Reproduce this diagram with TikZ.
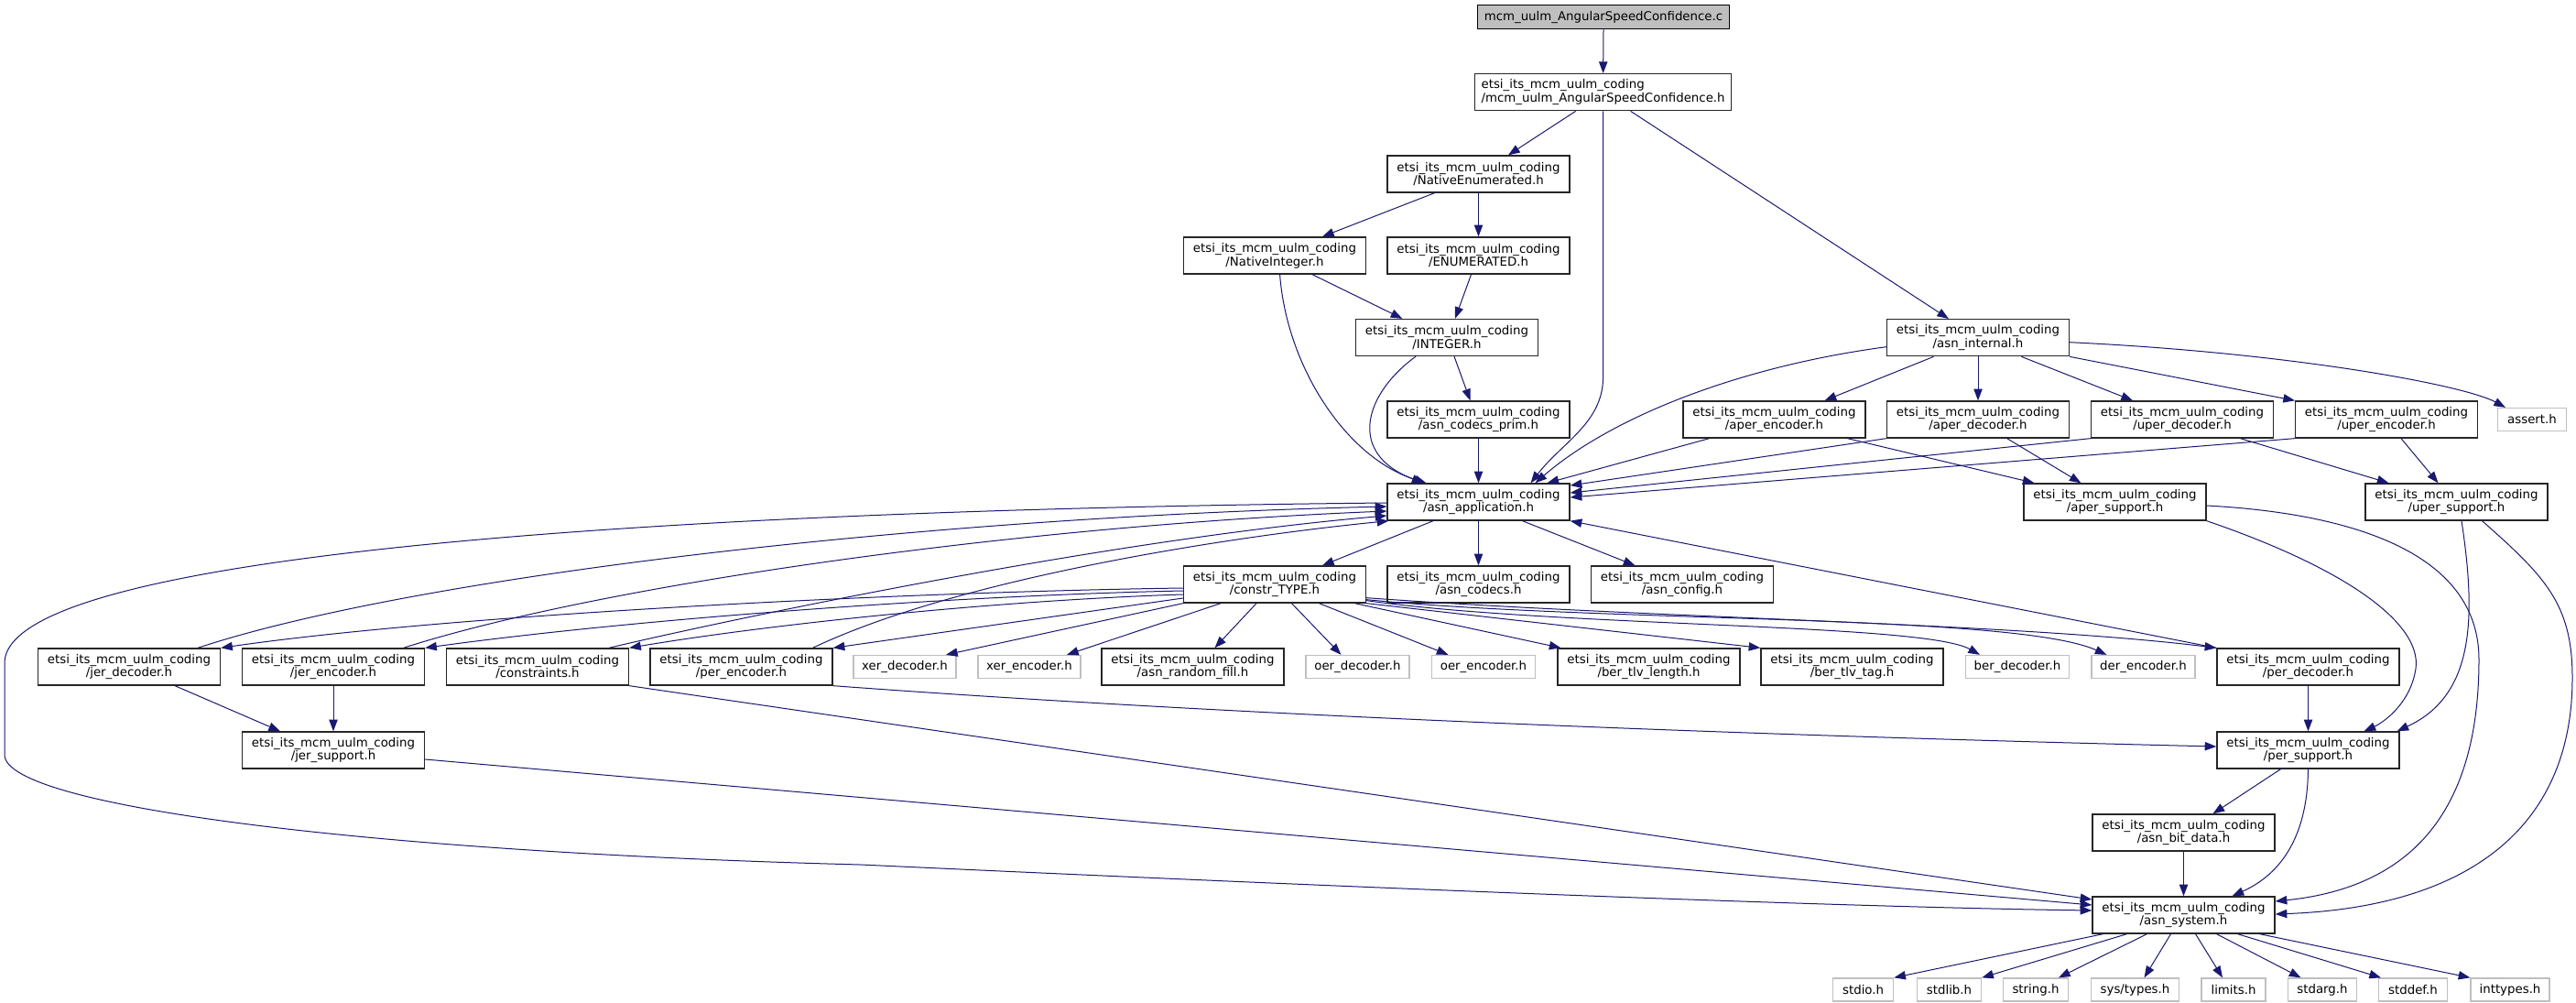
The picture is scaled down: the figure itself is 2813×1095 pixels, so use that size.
\documentclass[tikz,border=0pt]{standalone}
\usepackage{fontspec}
\setmainfont{DejaVu Sans}
\usetikzlibrary{arrows.meta,calc}
\definecolor{edgec}{HTML}{191970}
\definecolor{greyb}{HTML}{BFBFBF}
\begin{document}
\begin{tikzpicture}[x=0.75pt,y=-0.75pt,
  hdr/.style={draw=black!85,line width=1pt,fill=white,rectangle,align=center,inner sep=0pt,minimum width=149.25pt,minimum height=30pt,font=\fontsize{10}{11}\selectfont},
  ext/.style={draw=greyb,line width=1pt,fill=white,rectangle,inner sep=0pt,minimum height=18.75pt,font=\fontsize{10}{11}\selectfont},
  edg/.style={draw=edgec,line width=0.75pt,-{Triangle[length=9.5pt,width=7pt]}},
]
\fill[white] (0,0) rectangle (2813,1095);
\useasboundingbox (0,0) rectangle (2813,1095);

% nodes
\node[hdr,fill=greyb,draw=black,minimum width=206.25pt,minimum height=19.5pt] (top) at (1751,18.7) {mcm\_uulm\_AngularSpeedConfidence.c};
\node[hdr,align=left,minimum width=210pt] (asc) at (1750.6,100.7) {etsi\_its\_mcm\_uulm\_coding\\/mcm\_uulm\_AngularSpeedConfidence.h};
\node[hdr] (nenum) at (1614.5,190) {etsi\_its\_mcm\_uulm\_coding\\/NativeEnumerated.h};
\node[hdr] (nint) at (1392,279) {etsi\_its\_mcm\_uulm\_coding\\/NativeInteger.h};
\node[hdr] (enumh) at (1614.5,279) {etsi\_its\_mcm\_uulm\_coding\\/ENUMERATED.h};
\node[hdr] (integer) at (1580,368.5) {etsi\_its\_mcm\_uulm\_coding\\/INTEGER.h};
\node[hdr] (asnint) at (2160,368.7) {etsi\_its\_mcm\_uulm\_coding\\/asn\_internal.h};
\node[hdr] (prim) at (1614.5,458) {etsi\_its\_mcm\_uulm\_coding\\/asn\_codecs\_prim.h};
\node[hdr] (aenc) at (1937.5,458) {etsi\_its\_mcm\_uulm\_coding\\/aper\_encoder.h};
\node[hdr] (adec) at (2160,458) {etsi\_its\_mcm\_uulm\_coding\\/aper\_decoder.h};
\node[hdr] (udec) at (2383,458) {etsi\_its\_mcm\_uulm\_coding\\/uper\_decoder.h};
\node[hdr] (uenc) at (2606,458) {etsi\_its\_mcm\_uulm\_coding\\/uper\_encoder.h};
\node[ext,minimum width=56.25pt] (assert) at (2765,458) {assert.h};
\node[hdr] (app) at (1614.5,548) {etsi\_its\_mcm\_uulm\_coding\\/asn\_application.h};
\node[hdr] (asup) at (2309.5,548) {etsi\_its\_mcm\_uulm\_coding\\/aper\_support.h};
\node[hdr] (usup) at (2682.5,548) {etsi\_its\_mcm\_uulm\_coding\\/uper\_support.h};
\node[hdr] (ctype) at (1392,638) {etsi\_its\_mcm\_uulm\_coding\\/constr\_TYPE.h};
\node[hdr] (codecs) at (1614.5,638) {etsi\_its\_mcm\_uulm\_coding\\/asn\_codecs.h};
\node[hdr] (config) at (1837,638) {etsi\_its\_mcm\_uulm\_coding\\/asn\_config.h};
\node[hdr] (jdec) at (141,728) {etsi\_its\_mcm\_uulm\_coding\\/jer\_decoder.h};
\node[hdr] (jenc) at (364,728) {etsi\_its\_mcm\_uulm\_coding\\/jer\_encoder.h};
\node[hdr] (constr) at (587,728) {etsi\_its\_mcm\_uulm\_coding\\/constraints.h};
\node[hdr] (penc) at (809.5,728) {etsi\_its\_mcm\_uulm\_coding\\/per\_encoder.h};
\node[ext,minimum width=84pt] (xdec) at (988,728) {xer\_decoder.h};
\node[ext,minimum width=84pt] (xenc) at (1124,728) {xer\_encoder.h};
\node[hdr] (rfill) at (1302.5,728) {etsi\_its\_mcm\_uulm\_coding\\/asn\_random\_fill.h};
\node[ext,minimum width=84.75pt] (odec) at (1482.5,728) {oer\_decoder.h};
\node[ext,minimum width=84.4pt] (oenc) at (1620,728) {oer\_encoder.h};
\node[hdr] (blen) at (1800.5,728) {etsi\_its\_mcm\_uulm\_coding\\/ber\_tlv\_length.h};
\node[hdr] (btag) at (2022.5,728) {etsi\_its\_mcm\_uulm\_coding\\/ber\_tlv\_tag.h};
\node[ext,minimum width=84.4pt] (bdec) at (2203,728) {ber\_decoder.h};
\node[ext,minimum width=84.75pt] (denc) at (2340.5,728) {der\_encoder.h};
\node[hdr] (pdec) at (2520.5,728) {etsi\_its\_mcm\_uulm\_coding\\/per\_decoder.h};
\node[hdr] (jsup) at (364,819) {etsi\_its\_mcm\_uulm\_coding\\/jer\_support.h};
\node[hdr] (psup) at (2520.5,819) {etsi\_its\_mcm\_uulm\_coding\\/per\_support.h};
\node[hdr] (bitd) at (2384.5,909) {etsi\_its\_mcm\_uulm\_coding\\/asn\_bit\_data.h};
\node[hdr] (sys) at (2384.5,999) {etsi\_its\_mcm\_uulm\_coding\\/asn\_system.h};
\node[ext,minimum width=49.5pt] (stdio) at (2034.6,1080.5) {stdio.h};
\node[ext,minimum width=52.5pt] (stdlib) at (2128.5,1080.5) {stdlib.h};
\node[ext,minimum width=53.25pt] (string) at (2223,1080.5) {string.h};
\node[ext,minimum width=72pt] (systypes) at (2331.5,1080.5) {sys/types.h};
\node[ext,minimum width=52.5pt] (limits) at (2439,1080.5) {limits.h};
\node[ext,minimum width=56pt] (stdarg) at (2536,1080.5) {stdarg.h};
\node[ext,minimum width=56pt] (stddef) at (2635,1080.5) {stddef.h};
\node[ext,minimum width=64.5pt] (inttypes) at (2741,1080.5) {inttypes.h};

% edges
\draw[edg] (top.south) -- (asc.north);
\draw[edg] ($(asc.south)+(-30,0)$) -- ($(nenum.north)+(32.5,0)$);
\draw[edg] ($(asc.south)+(30,0)$) -- ($(asnint.north)+(-32,0)$);
\draw[edg] (asc.south) -- ++(0,290) .. controls +(0,50) and +(35,-45) .. ($(app.north)+(57,0)$);
\draw[edg] ($(nenum.south)+(-48,0)$) -- ($(nint.north)+(52,0)$);
\draw[edg] (nenum.south) -- (enumh.north);
\draw[edg] ($(nint.south)+(41,0)$) -- ($(integer.north)+(-48.6,0)$);
\draw[edg] ($(enumh.south)+(-8,0)$) -- ($(integer.north)+(9,0)$);
\draw[edg] ($(nint.south)+(5.6,0)$) .. controls (1405,400) and (1470,500) .. ($(app.north)+(-57,0)$);
\draw[edg] ($(integer.south)+(-34,0)$) .. controls (1490,430) and (1470,495) .. ($(app.north)+(-60,0)$);
\draw[edg] ($(integer.south)+(8,0)$) -- ($(prim.north)+(-9,0)$);
\draw[edg] (prim.south) -- (app.north);
\draw[edg] ($(asnint.west)+(0,10)$) .. controls (1900,400) and (1760,455) .. ($(app.north)+(62,0)$);
\draw[edg] ($(asnint.south)+(-48.5,0)$) -- ($(aenc.north)+(55,0)$);
\draw[edg] (asnint.south) -- (adec.north);
\draw[edg] ($(asnint.south)+(47.4,0)$) -- ($(udec.north)+(-54,0)$);
\draw[edg] (asnint.south east) -- ($(uenc.north)+(-100,0)$);
\draw[edg] ($(asnint.east)+(0,5)$) .. controls (2500,385) and (2690,420) .. ($(assert.north)+(-29,0)$);
\draw[edg] ($(aenc.south)+(-71,0)$) -- ($(app.north)+(75,0)$);
\draw[edg] ($(aenc.south)+(80,0)$) -- ($(asup.north)+(-88,0)$);
\draw[edg] (adec.south west) -- ($(app.east)+(0,-18)$);
\draw[edg] ($(adec.south)+(31.7,0)$) -- ($(asup.north)+(-37,0)$);
\draw[edg] (udec.south west) -- ($(app.east)+(0,-10)$);
\draw[edg] ($(udec.south)+(63.5,0)$) -- ($(usup.north)+(-74,0)$);
\draw[edg] (uenc.south west) -- ($(app.east)+(0,-5)$);
\draw[edg] ($(uenc.south)+(16,0)$) -- ($(usup.north)+(-20,0)$);
\draw[edg] (asup.south east) .. controls (2560,620) and (2645,680) .. (2638,730) .. controls (2632,770) and (2600,790) .. ($(psup.north)+(61,0)$);
\draw[edg] ($(asup.east)+(0,4)$) .. controls (2560,560) and (2707,600) .. (2707,720) .. controls (2707,900) and (2620,970) .. ($(sys.east)+(0,-15)$);
\draw[edg] ($(usup.south)+(5.5,0)$) .. controls (2705,680) and (2700,760) .. ($(psup.north)+(97,0)$);
\draw[edg] ($(usup.south)+(28,0)$) .. controls (2780,630) and (2809,660) .. (2809,740) .. controls (2809,900) and (2700,990) .. ($(sys.east)+(0,-1)$);
\draw[edg] ($(psup.south)+(-30,0)$) -- ($(bitd.north)+(32,0)$);
\draw[edg] (psup.south) .. controls (2520,900) and (2500,950) .. ($(sys.north)+(53,0)$);
\draw[edg] (bitd.south) -- (sys.north);
\draw[edg] (pdec.south) -- (psup.north);
\draw[edg] (pdec.north west) -- (app.south east);
\draw[edg] (penc.south east) .. controls (1400,785) and (2000,805) .. ($(psup.west)+(0,-4)$);
\draw[edg] ($(penc.north)+(78,0)$) .. controls (1050,630) and (1350,585) .. ($(app.south west)+(2,0)$);
\draw[edg] ($(constr.north)+(78,0)$) .. controls (780,680) and (1200,590) .. ($(app.west)+(0,15)$);
\draw[edg] ($(jenc.north)+(76.6,0)$) .. controls (650,640) and (1100,575) .. ($(app.west)+(0,10)$);
\draw[edg] ($(jdec.north)+(75,0)$) .. controls (450,630) and (1000,565) .. ($(app.west)+(0,5)$);
\draw[edg] ($(app.west)+(0,1)$) .. controls (900,555) and (5,590) .. (5,724) -- (5,824) .. controls (5,880) and (400,930) .. (940,944) .. controls (1500,970) and (2000,990) .. ($(sys.west)+(0,-5)$);
\draw[edg] (constr.south east) -- ($(sys.west)+(0,-17)$);
\draw[edg] ($(jsup.east)+(0,10)$) -- ($(sys.west)+(0,-11)$);
\draw[edg] ($(jdec.south)+(50,0)$) -- ($(jsup.north)+(-58,0)$);
\draw[edg] (jenc.south) -- (jsup.north);
\draw[edg] ($(app.south)+(-49.5,0)$) -- ($(ctype.north)+(52,0)$);
\draw[edg] (app.south) -- (codecs.north);
\draw[edg] ($(app.south)+(48,0)$) -- ($(config.north)+(-51.5,0)$);
\draw[edg] ($(ctype.west)+(0,4)$) .. controls (1000,646) and (500,670) .. (jdec.north east);
\draw[edg] ($(ctype.west)+(0,7)$) .. controls (1050,650) and (700,675) .. (jenc.north east);
\draw[edg] ($(ctype.west)+(0,11)$) .. controls (1100,655) and (850,680) .. (constr.north east);
\draw[edg] ($(ctype.west)+(0,15)$) -- (penc.north east);
\draw[edg] (ctype.south west) -- ($(xdec.north)+(45,0)$);
\draw[edg] ($(ctype.south)+(-59,0)$) -- ($(xenc.north)+(41,0)$);
\draw[edg] ($(ctype.south)+(-20,0)$) -- ($(rfill.north)+(24,0)$);
\draw[edg] ($(ctype.south)+(18.5,0)$) -- ($(odec.north)+(-18,0)$);
\draw[edg] ($(ctype.south)+(48.5,0)$) -- ($(oenc.north)+(-38.5,0)$);
\draw[edg] ($(ctype.south)+(87.5,0)$) -- ($(blen.north)+(-96,0)$);
\draw[edg] (ctype.south east) -- (btag.north west);
\draw[edg] ($(ctype.south east)+(0,-3)$) .. controls (1700,685) and (2100,680) .. ($(bdec.north)+(-41,0)$);
\draw[edg] ($(ctype.south east)+(0,-4)$) .. controls (1750,680) and (2200,670) .. ($(denc.north)+(-40,0)$);
\draw[edg] ($(ctype.south east)+(0,-6)$) .. controls (1800,675) and (2200,680) .. (pdec.north west);
\draw[edg] ($(sys.south)+(-88,0)$) -- (stdio.north east);
\draw[edg] ($(sys.south)+(-62,0)$) -- (stdlib.north east);
\draw[edg] ($(sys.south)+(-40,0)$) -- ($(string.north)+(25,0)$);
\draw[edg] ($(sys.south)+(-14,0)$) -- ($(systypes.north)+(10,0)$);
\draw[edg] ($(sys.south)+(13,0)$) -- ($(limits.north)+(-12,0)$);
\draw[edg] ($(sys.south)+(36,0)$) -- ($(stdarg.north)+(-23.5,0)$);
\draw[edg] ($(sys.south)+(59,0)$) -- ($(stddef.north)+(-35,0)$);
\draw[edg] ($(sys.south)+(83,0)$) -- (inttypes.north west);
\end{tikzpicture}
\end{document}
